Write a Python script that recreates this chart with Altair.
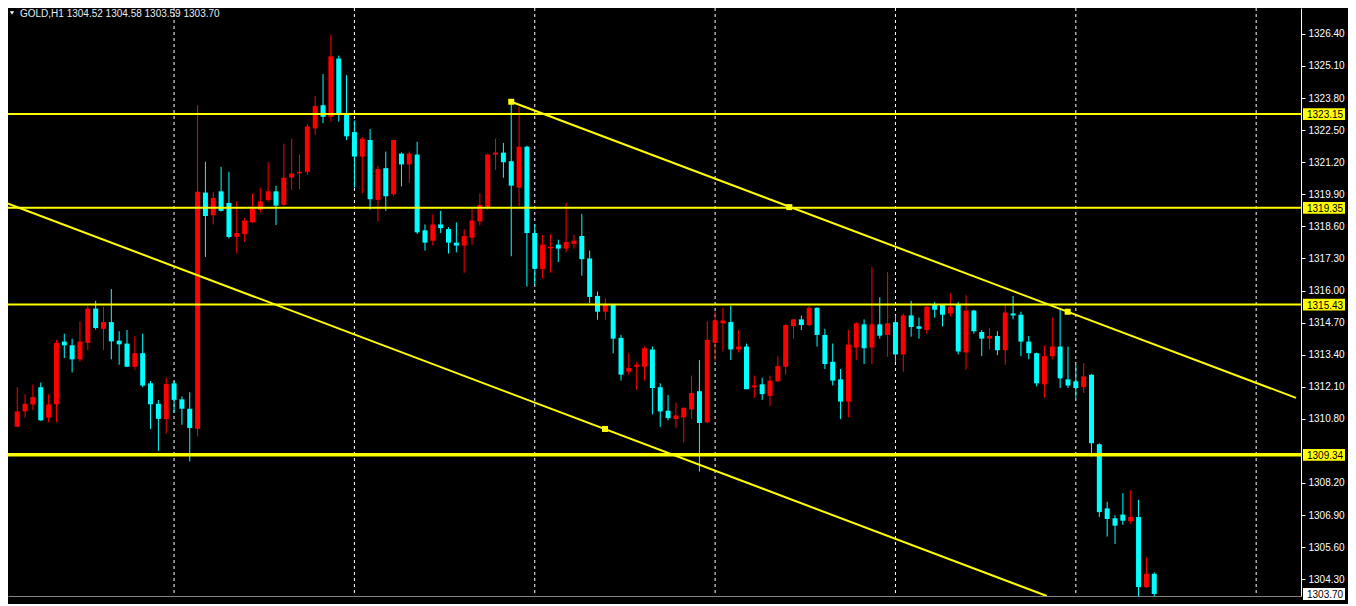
import altair as alt
import pandas as pd

# ---- candle data (GOLD, H1) ----
opens = [1310.48,1311.10,1311.38,1312.08,1310.85,1311.39,1313.93,1313.78,1313.21,1313.88,
         1315.27,1314.45,1314.72,1313.97,1313.85,1312.91,1313.46,1312.24,1311.41,1310.79,
         1312.24,1311.59,1311.21,1310.40,1319.97,1319.05,1320.02,1319.55,1318.17,1318.29,
         1318.77,1319.27,1319.67,1320.02,1319.47,1320.58,1320.75,1320.81,1322.57,1323.51,
         1323.04,1325.40,1323.15,1322.42,1321.43,1322.10,1319.67,1320.96,1319.90,1321.55,
         1321.11,1321.51,1318.44,1318.02,1318.68,1318.49,1317.94,1317.82,1318.14,1318.80,
         1319.35,1321.51,1321.59,1321.24,1320.17,1321.83,1318.33,1316.88,1317.71,1317.86,
         1317.70,1317.89,1318.21,1317.30,1315.78,1315.14,1315.42,1314.08,1312.71,1312.91,
         1312.91,1313.61,1312.08,1311.13,1310.79,1310.86,1311.18,1311.92,1310.66,1313.88,
         1314.67,1314.72,1313.61,1313.73,1312.08,1312.20,1311.73,1312.32,1312.91,1314.55,
         1314.83,1314.60,1315.30,1314.20,1313.11,1312.40,1311.50,1313.69,1314.63,1313.69,
         1314.63,1314.20,1314.72,1313.41,1314.99,1314.55,1314.40,1315.42,1315.42,1315.07,
         1315.42,1313.49,1315.19,1314.32,1314.05,1314.16,1313.58,1315.07,1315.02,1313.93,
         1313.46,1312.20,1313.34,1313.73,1312.40,1312.32,1312.08,1312.59,1309.77,1307.17,
         1306.77,1306.92,1306.65,1306.82,1303.98,1304.52]
highs = [1312.08,1311.80,1312.20,1312.27,1311.80,1314.00,1314.25,1314.05,1314.75,1315.37,
         1315.58,1315.34,1316.06,1314.35,1314.40,1314.16,1314.25,1312.33,1311.56,1312.47,
         1312.33,1311.71,1311.88,1323.51,1321.22,1320.00,1321.01,1320.81,1319.62,1318.94,
         1319.94,1320.17,1321.20,1320.25,1321.95,1322.15,1321.51,1322.75,1323.88,1324.77,
         1326.38,1325.52,1324.73,1322.89,1322.22,1322.54,1321.04,1321.63,1322.12,1321.60,
         1321.63,1322.03,1318.68,1319.08,1319.23,1318.56,1318.76,1318.49,1319.32,1319.94,
         1321.55,1322.15,1321.98,1323.62,1323.44,1321.87,1318.68,1318.26,1318.29,1318.06,
         1319.55,1318.26,1319.11,1317.62,1315.96,1315.69,1315.45,1314.20,1313.46,1313.11,
         1313.73,1313.73,1312.24,1311.77,1311.45,1311.25,1312.55,1313.18,1314.75,1315.14,
         1315.30,1315.37,1314.40,1313.85,1312.55,1312.47,1312.55,1313.34,1314.63,1314.85,
         1314.99,1315.37,1315.32,1314.45,1313.85,1312.82,1314.40,1314.72,1314.83,1316.95,
         1315.73,1316.75,1314.99,1315.07,1315.58,1314.90,1315.37,1315.54,1315.44,1315.89,
         1315.54,1315.81,1315.22,1314.40,1314.48,1314.35,1315.42,1315.78,1315.14,1314.16,
         1313.48,1313.78,1314.90,1315.22,1313.73,1312.99,1313.06,1312.61,1309.81,1307.44,
         1306.89,1307.79,1307.91,1307.52,1305.18,1304.58]
lows = [1310.46,1310.85,1311.15,1310.72,1310.66,1310.66,1313.26,1312.68,1313.12,1313.58,
        1314.42,1313.58,1313.21,1312.99,1312.90,1312.80,1312.08,1310.39,1309.50,1310.21,
        1311.04,1310.56,1309.07,1310.09,1317.36,1318.68,1319.20,1318.11,1317.50,1317.98,
        1318.74,1319.17,1319.60,1318.65,1319.44,1320.08,1320.11,1320.69,1322.30,1322.78,
        1322.85,1322.85,1322.10,1320.17,1319.94,1319.28,1318.80,1319.23,1319.82,1320.22,
        1320.37,1318.29,1317.62,1317.82,1318.33,1317.50,1317.55,1316.72,1317.86,1318.64,
        1319.28,1320.89,1320.57,1317.39,1319.43,1316.16,1316.21,1316.48,1316.72,1317.15,
        1317.55,1317.70,1316.60,1315.49,1314.82,1314.82,1313.46,1312.35,1312.59,1311.97,
        1312.35,1310.98,1310.47,1310.74,1310.43,1309.84,1310.79,1308.66,1310.63,1313.15,
        1313.53,1313.18,1313.49,1312.00,1311.65,1311.57,1311.33,1312.30,1312.59,1314.05,
        1314.40,1314.55,1313.73,1312.82,1312.15,1310.79,1310.86,1313.18,1313.02,1313.01,
        1314.05,1313.31,1313.11,1312.71,1314.13,1314.05,1314.25,1314.90,1314.55,1314.95,
        1313.41,1312.79,1314.25,1313.34,1313.61,1313.38,1312.99,1314.83,1313.34,1313.21,
        1312.12,1311.65,1313.21,1312.05,1312.05,1311.65,1311.85,1309.27,1306.82,1306.03,
        1305.73,1306.50,1306.55,1303.60,1303.95,1303.59]
closes = [1311.10,1311.41,1311.68,1310.74,1311.38,1313.88,1313.78,1313.21,1313.93,1315.27,
          1314.48,1314.72,1313.94,1313.82,1312.91,1313.46,1312.15,1311.39,1310.80,1312.21,
          1311.57,1311.21,1310.43,1320.00,1319.02,1319.75,1319.23,1318.17,1318.33,1318.84,
          1319.32,1319.61,1320.02,1319.44,1320.57,1320.74,1320.81,1322.65,1323.48,1323.04,
          1325.49,1323.15,1322.25,1321.43,1322.15,1319.70,1320.92,1319.82,1322.10,1321.11,
          1321.55,1318.36,1317.94,1318.68,1318.53,1317.94,1317.82,1318.21,1318.84,1319.47,
          1321.51,1321.59,1321.20,1320.25,1321.83,1318.33,1316.88,1317.86,1317.77,1317.70,
          1317.97,1318.02,1317.27,1315.74,1315.14,1315.42,1314.05,1312.59,1312.86,1312.99,
          1313.66,1312.05,1311.10,1310.83,1310.94,1311.25,1311.85,1310.63,1314.00,1314.79,
          1314.79,1313.61,1313.73,1312.00,1312.15,1311.80,1312.35,1312.94,1314.60,1314.83,
          1314.60,1315.30,1314.20,1313.02,1312.35,1311.50,1313.81,1314.67,1313.66,1314.63,
          1314.17,1314.67,1313.41,1314.99,1314.52,1314.45,1315.34,1315.22,1315.02,1315.34,
          1313.53,1315.19,1314.35,1314.05,1314.16,1313.58,1315.11,1314.99,1313.93,1313.46,
          1312.24,1313.34,1313.73,1312.44,1312.15,1312.05,1312.52,1309.81,1307.02,1306.74,
          1306.47,1306.67,1306.82,1303.98,1304.52,1303.70]

# horizontal levels and their labels
level_prices = [1323.15, 1319.35, 1315.43, 1309.34]
level_widths = [2, 2, 2, 3.5]
current_price = [1303.70]

# trend lines (bar index, price)
trend_names = ["upper", "upper", "lower", "lower"]
trend_idx = [63.0, 163.08, -2.0, 131.3]
trend_price = [1323.65, 1311.65, 1319.62, 1303.62]
anchor_idx = [63.0, 98.46, 133.96, 74.96]
anchor_price = [1323.65, 1319.38, 1315.14, 1310.39]

# day separators (bar index)
sep_idx = [20, 43, 66, 89, 112, 135, 158]

# price-axis tick labels
tick_values = [1326.40, 1325.10, 1323.80, 1322.50, 1321.20, 1319.90, 1318.60, 1317.30,
               1316.00, 1314.70, 1313.40, 1312.10, 1310.80, 1308.20, 1306.90, 1305.60, 1304.30]

header = ["GOLD,H1  1304.52 1304.58 1303.59 1303.70"]

W, H = 1293, 588
df = pd.DataFrame({"idx": list(range(len(opens))), "open": opens, "high": highs,
                   "low": lows, "close": closes})
xs = alt.Scale(domain=[-0.54, 163.08], nice=False, zero=False)
ys = alt.Scale(domain=[1303.62, 1327.45], nice=False, zero=False)
color = alt.condition("datum.close >= datum.open", alt.value("#FF0000"), alt.value("#00FFFF"))

yaxis = alt.Axis(orient="right", values=tick_values, format=".2f", labelColor="#FFFFFF",
                 labelFont="Liberation Sans", labelFontSize=10, tickColor="#FFFFFF",
                 tickSize=4, labelPadding=3, domainColor="#FFFFFF", grid=False, title=None,
                 labelOverlap=False)
xaxis = alt.Axis(orient="bottom", labels=False, ticks=False, grid=False, title=None,
                 domainColor="#808080")


def X(field):
    return alt.X(field, scale=xs, axis=xaxis)


def Y(field):
    return alt.Y(field, scale=ys, axis=yaxis)


base = alt.Chart(df)
wicks = base.mark_rule(strokeWidth=1).encode(
    x=X("idx:Q"), y=Y("low:Q"), y2="high:Q", color=color)
bodies = base.mark_bar(size=5).encode(
    x=X("idx:Q"), y=Y("open:Q"), y2="close:Q", color=color)

seps = alt.Chart(pd.DataFrame({"idx": sep_idx})).mark_rule(
    color="#FFFFFF", strokeDash=[3, 3], strokeWidth=1).encode(x=X("idx:Q"))

lv = pd.DataFrame({"price": level_prices, "w": level_widths,
                   "label": [f"{p:.2f}" for p in level_prices]})
levels = alt.Chart(lv).mark_rule(color="#FFFF00").encode(
    y=Y("price:Q"), strokeWidth=alt.StrokeWidth("w:Q", scale=None, legend=None))

tr = pd.DataFrame({"name": trend_names, "idx": trend_idx, "price": trend_price})
trends = alt.Chart(tr).mark_line(color="#FFFF00", strokeWidth=2, clip=True).encode(
    x=X("idx:Q"), y=Y("price:Q"), detail="name:N")
anchors = alt.Chart(pd.DataFrame({"idx": anchor_idx, "price": anchor_price})).mark_square(
    color="#FFFF00", size=36, opacity=1).encode(x=X("idx:Q"), y=Y("price:Q"))

boxes = alt.Chart(lv).transform_calculate(lo="datum.price - 0.24", hi="datum.price + 0.24").mark_rect(
    color="#FFFF00").encode(
    x=alt.value(W + 2), x2=alt.value(W + 44), y=Y("lo:Q"), y2="hi:Q")
box_text = alt.Chart(lv).mark_text(align="left", baseline="middle", color="#000000",
                                   font="Liberation Sans", fontSize=10, dy=1).encode(
    x=alt.value(W + 6), y=Y("price:Q"), text="label:N")

cp = pd.DataFrame({"price": current_price, "label": [f"{p:.2f}" for p in current_price]})
cp_box = alt.Chart(cp).transform_calculate(lo="datum.price - 0.24", hi="datum.price + 0.24").mark_rect(
    color="#FFFFFF").encode(
    x=alt.value(W + 2), x2=alt.value(W + 44), y=Y("lo:Q"), y2="hi:Q")
cp_text = alt.Chart(cp).mark_text(align="left", baseline="middle", color="#000000",
                                  font="Liberation Sans", fontSize=10, dy=1).encode(
    x=alt.value(W + 6), y=Y("price:Q"), text="label:N")

hdr = alt.Chart(pd.DataFrame({"t": header})).mark_text(
    align="left", baseline="middle", color="#E6EEF6", font="Liberation Sans", fontSize=10).encode(
    x=alt.value(12), y=alt.value(6), text="t:N")
tri = alt.Chart(pd.DataFrame({"t": header})).mark_point(
    shape="triangle-down", filled=True, color="#FFFFFF", size=18, opacity=1).encode(
    x=alt.value(4), y=alt.value(5))

chart = alt.layer(seps, wicks, bodies, levels, trends, anchors, boxes, box_text,
                  cp_box, cp_text, hdr, tri).properties(
    width=W, height=H, background="#000000",
    padding={"left": 0, "top": 0, "right": 47, "bottom": 8},
    autosize=alt.AutoSizeParams(type="none")
).configure_view(strokeWidth=0)

chart.save("out.html", embed_options={"renderer": "svg", "actions": False})
